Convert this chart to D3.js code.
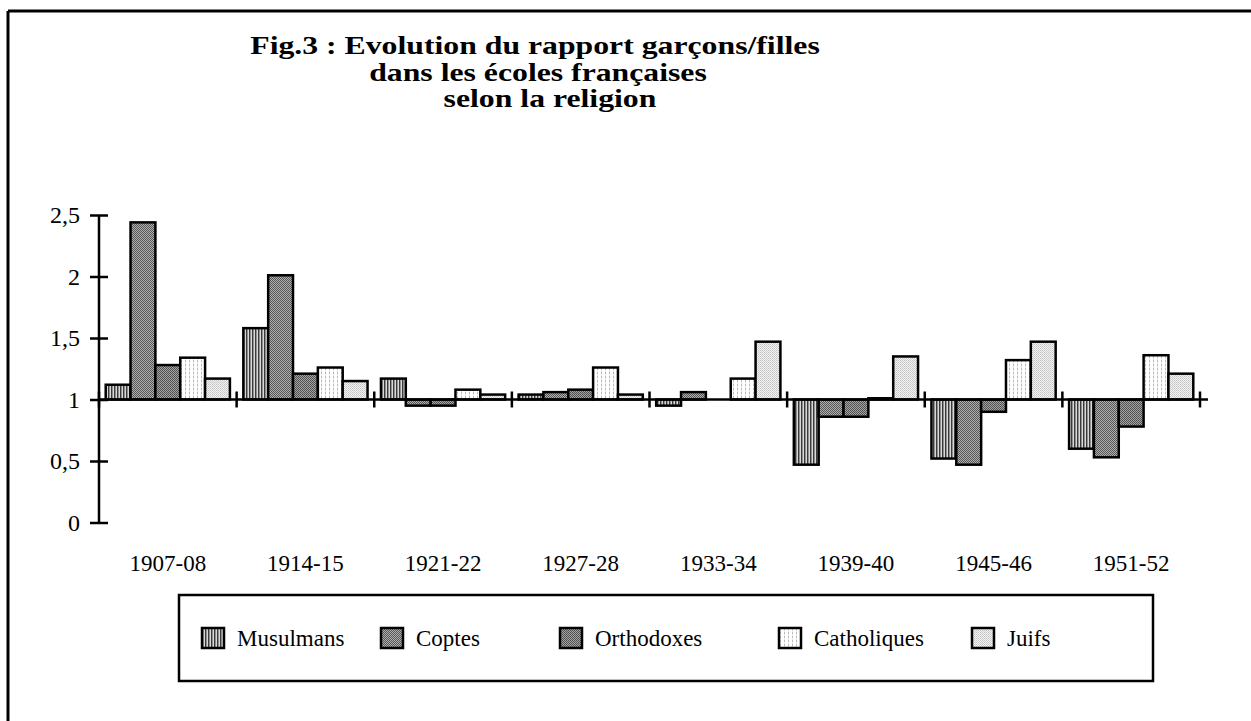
<!DOCTYPE html>
<html>
<head>
<meta charset="utf-8">
<script src="https://cdn.jsdelivr.net/npm/d3@7"></script>
<style>
    body { margin: 0; background: #fff; }
    text { font-family: "Liberation Serif", "Times New Roman", serif; fill: #000; }
</style>
</head>
<body>
<div id="chart"></div>
<script>
// data (ratio garçons/filles, baseline 1)
const categories = ["1907-08", "1914-15", "1921-22", "1927-28", "1933-34", "1939-40", "1945-46", "1951-52"];
const seriesNames = ["Musulmans", "Coptes", "Orthodoxes", "Catholiques", "Juifs"];
const musulmans = [1.12, 1.58, 1.17, 1.04, 0.95, 0.47, 0.52, 0.60];
const coptes = [2.44, 2.01, 0.95, 1.06, 1.06, 0.86, 0.47, 0.53];
const orthodoxes = [1.28, 1.21, 0.95, 1.08, 1.00, 0.86, 0.90, 0.78];
const catholiques = [1.34, 1.26, 1.08, 1.26, 1.17, 1.01, 1.32, 1.36];
const juifs = [1.17, 1.15, 1.04, 1.04, 1.47, 1.35, 1.47, 1.21];
const yTicks = [0, 0.5, 1, 1.5, 2, 2.5];
const titleLines = ["Fig.3 : Evolution du rapport garçons/filles", "dans les écoles françaises", "selon la religion"];

const seriesValues = [musulmans, coptes, orthodoxes, catholiques, juifs];
const baseline = 1;

const width = 1251, height = 721;

const svg = d3.select("#chart").append("svg")
    .attr("width", width)
    .attr("height", height);

// fill patterns, one per religion
const defs = svg.append("defs");

function addPattern(id, w, h, cells) {
    let p = defs.append("pattern")
        .attr("id", id)
        .attr("patternUnits", "userSpaceOnUse")
        .attr("width", w)
        .attr("height", h);
    cells.forEach(c => {
        p.append("rect")
            .attr("x", c[0]).attr("y", c[1])
            .attr("width", c[2]).attr("height", c[3])
            .attr("fill", c[4]);
    });
}

addPattern("p-mus", 3, 3, [[0, 0, 3, 3, "#d8d8d8"], [0, 0, 1, 3, "#3a3a3a"], [1, 0, 1, 3, "#909090"]]);
addPattern("p-cop", 2, 2, [[0, 0, 2, 2, "#b0b0b0"], [0, 0, 1, 1, "#555"], [1, 1, 1, 1, "#555"]]);
addPattern("p-ort", 2, 2, [[0, 0, 2, 2, "#a4a4a4"], [0, 0, 1, 1, "#4c4c4c"], [1, 1, 1, 1, "#555"]]);
addPattern("p-cat", 4, 4, [[0, 0, 4, 4, "#fff"], [1, 0, 1, 2, "#bbb"], [1, 2, 1, 2, "#e6e6e6"]]);
addPattern("p-jui", 2, 2, [[0, 0, 2, 2, "#f2f2f2"], [0, 0, 1, 1, "#c4c4c4"], [1, 1, 1, 1, "#d0d0d0"]]);

const fills = ["url(#p-mus)", "url(#p-cop)", "url(#p-ort)", "url(#p-cat)", "url(#p-jui)"];

// outer frame (top and left edges visible)
svg.append("line")
    .attr("x1", 8).attr("y1", 11).attr("x2", width).attr("y2", 11)
    .attr("stroke", "#000").attr("stroke-width", 3);
svg.append("line")
    .attr("x1", 8).attr("y1", 11).attr("x2", 8).attr("y2", height)
    .attr("stroke", "#000").attr("stroke-width", 3);

// title: the original type is set wide, so stretch it horizontally
const titleCenters = [535, 538, 550];
svg.append("g").selectAll("text")
    .data(titleLines)
    .enter()
    .append("text")
    .attr("transform", (d, i) => "translate(" + titleCenters[i] + "," + (54 + i * 26.5) + ") scale(1.27,1)")
    .attr("text-anchor", "middle")
    .style("font-size", "25px")
    .style("font-weight", "bold")
    .text(d => d);

// scales
const x0 = d3.scaleBand()
    .domain(categories)
    .range([99, 1200]);

const x1 = d3.scaleBand()
    .domain(seriesNames)
    .range([0, x0.bandwidth()])
    .paddingInner(0)
    .paddingOuter(0.27);

const y = d3.scaleLinear()
    .domain([0, 2.5])
    .range([522.5, 215]);

// bars
const bars = [];
categories.forEach((c, i) => {
    seriesNames.forEach((s, j) => {
        bars.push({ cat: c, name: s, idx: j, value: seriesValues[j][i] });
    });
});

svg.append("g").selectAll(".bar")
    .data(bars)
    .enter()
    .append("rect")
    .attr("class", "bar")
    .attr("x", d => x0(d.cat) + x1(d.name))
    .attr("y", d => y(Math.max(d.value, baseline)))
    .attr("width", x1.bandwidth())
    .attr("height", d => Math.abs(y(d.value) - y(baseline)))
    .attr("fill", d => fills[d.idx])
    .attr("stroke", "#000")
    .attr("stroke-width", 2.5);

// y axis
const yAxis = d3.axisLeft(y)
    .tickValues(yTicks)
    .tickSize(9)
    .tickPadding(10)
    .tickFormat(d => String(d).replace(".", ","));

const yG = svg.append("g")
    .attr("class", "y-axis")
    .attr("transform", "translate(99,0)")
    .call(yAxis);

yG.select(".domain").remove();
yG.append("line")
    .attr("x1", 0).attr("y1", y(2.5))
    .attr("x2", 0).attr("y2", y(0))
    .attr("stroke", "#000").attr("stroke-width", 2.5);
yG.selectAll(".tick line")
    .attr("x1", 9)
    .attr("stroke-width", 2.5);
yG.selectAll(".tick text")
    .style("font-size", "24px")
    .style("font-family", "'Liberation Serif', serif");

// x axis crossing at 1
const xG = svg.append("g")
    .attr("class", "x-axis")
    .attr("transform", "translate(0," + y(baseline) + ")");

xG.append("line")
    .attr("x1", 99).attr("x2", 1208)
    .attr("stroke", "#000").attr("stroke-width", 2.5);

const boundaries = categories.map(c => x0(c)).concat([x0.range()[1]]);
xG.selectAll(".xtick")
    .data(boundaries)
    .enter()
    .append("line")
    .attr("class", "xtick")
    .attr("x1", d => d).attr("x2", d => d)
    .attr("y1", -8).attr("y2", 8)
    .attr("stroke", "#000").attr("stroke-width", 2.5);

svg.append("g").selectAll(".xlabel")
    .data(categories)
    .enter()
    .append("text")
    .attr("class", "xlabel")
    .attr("x", d => x0(d) + x0.bandwidth() / 2)
    .attr("y", 571)
    .attr("text-anchor", "middle")
    .style("font-size", "23px")
    .text(d => d);

// legend
const legend = svg.append("g").attr("class", "legend");
legend.append("rect")
    .attr("x", 179).attr("y", 595)
    .attr("width", 974).attr("height", 86)
    .attr("fill", "none")
    .attr("stroke", "#000").attr("stroke-width", 2.5);

const legendX = [202, 381, 560, 779, 972];
const items = legend.selectAll(".item")
    .data(seriesNames)
    .enter()
    .append("g")
    .attr("class", "item")
    .attr("transform", (d, i) => "translate(" + legendX[i] + ",628)");

items.append("rect")
    .attr("width", 22).attr("height", 20)
    .attr("fill", (d, i) => fills[i])
    .attr("stroke", "#000").attr("stroke-width", 2.5);

items.append("text")
    .attr("x", 35)
    .attr("y", 18)
    .style("font-size", "23px")
    .text(d => d);
</script>
</body>
</html>
